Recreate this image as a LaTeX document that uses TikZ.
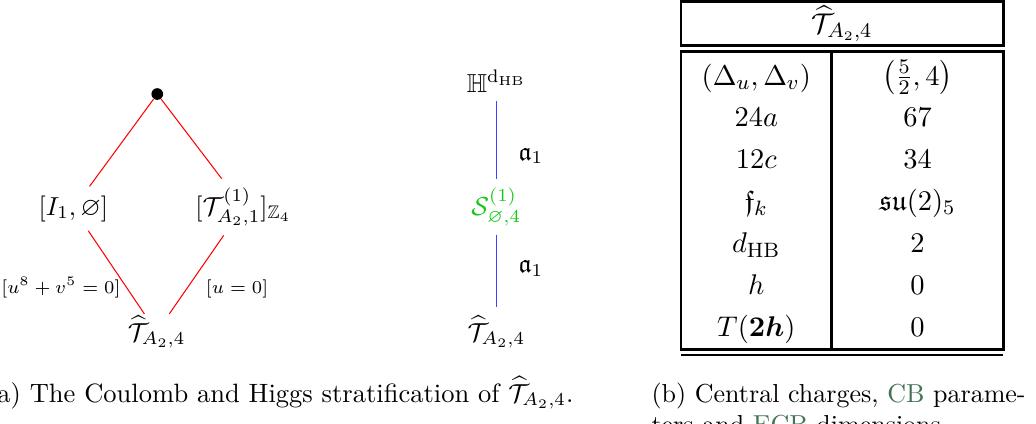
\documentclass[tikz,border=0pt]{standalone}
\usepackage{xcolor}
\usepackage{amsmath,amssymb}
\usepackage{tikz}
\usetikzlibrary{positioning, calc}

\definecolor{cbgreen}{RGB}{66,116,86}
\definecolor{strgreen}{RGB}{20,200,20}

\begin{document}
\begin{tikzpicture}[
  font=\normalsize,
  stratum/.style={anchor=base, inner sep=3.33pt},
  cbline/.style={draw=red, line width=0.4pt},
  hbline/.style={draw=blue!75, line width=0.5pt},
  elabel/.style={font=\scriptsize, anchor=base},
  tcell/.style={font=\fontsize{11}{13.6}\selectfont, anchor=base},
  tbox/.style={draw=black, line width=1pt},
  caption/.style={inner sep=0pt},
]
  \useasboundingbox (0,0) rectangle (14.004,5.718);

  % Coulomb branch stratification
  \node[circle, fill=black, inner sep=0pt, minimum size=4.5pt] (top) at (2.126,4.447) {};
  \node[stratum] (I1) at (0.991,2.811) {$[I_1,\varnothing]$};
  \node[stratum] (TZ) at (3.289,2.811) {$[\mathcal{T}^{(1)}_{A_2,1}]_{\mathbb{Z}_4}$};
  \node[stratum, inner ysep=0.5pt] (Tc) at (2.118,1.108) {$\widehat{\mathcal{T}}_{A_2,4}$};
  \draw[cbline] (top) -- (I1);
  \draw[cbline] (top) -- (TZ);
  \draw[cbline] (I1) -- (Tc);
  \draw[cbline] (TZ) -- (Tc);
  \node[elabel] (l1) at (0.824,1.757) {$[u^8+v^5=0]$};
  \node[elabel] (l2) at (3.204,1.757) {$[u=0]$};

  % Higgs branch stratification
  \node[stratum] (H) at (6.71,4.474) {$\mathbb{H}^{\mathrm{d}_{\mathrm{HB}}}$};
  \node[stratum, text=strgreen] (S) at (6.71,2.811) {$\mathcal{S}^{(1)}_{\varnothing,4}$};
  \node[stratum] (Th) at (6.71,1.108) {$\widehat{\mathcal{T}}_{A_2,4}$};
  \draw[hbline] (H) -- (S);
  \draw[hbline] (S) -- (Th);
  \node[anchor=base] (a1) at (7.177,3.555) {$\mathfrak{a}_1$};
  \node[anchor=base] (a2) at (7.177,2.028) {$\mathfrak{a}_1$};

  % Table of data
  \draw[tbox] (9.205,5.100) rectangle (13.562,5.695);
  \node[tcell] (title) at (11.384,5.268) {$\widehat{\mathcal{T}}_{A_2,4}$};
  \draw[tbox] (9.205,0.996) rectangle (13.562,5.019);
  \draw[tbox] (11.242,0.996) -- (11.242,5.019);
  \draw[tbox] (9.205,0.919) -- (13.562,0.919);
  \foreach \i/\q/\v in {0/{$(\Delta_u,\Delta_v)$}/{$\left(\frac{5}{2},4\right)$},
                        1/{$24a$}/{$67$},
                        2/{$12c$}/{$34$},
                        3/{$\mathfrak{f}_k$}/{$\mathfrak{su}(2)_5$},
                        4/{$d_{\mathrm{HB}}$}/{$2$},
                        5/{$h$}/{$0$},
                        6/{$T(\boldsymbol{2h})$}/{$0$}}{
    \node[tcell] (q\i) at (10.223,4.569-0.5664*\i) {\q};
    \node[tcell] (v\i) at (12.402,4.569-0.5664*\i) {\v};
  }

  % Captions
  \node[caption, anchor=base east, font=\fontsize{10.2}{12.2}\selectfont] (capa) at (7.759,0.284)
    {(a) The Coulomb and Higgs stratification of $\widehat{\mathcal{T}}_{A_2,4}$.};
  \node[caption, anchor=base west] (capb) at (8.80,0.284)
    {(b) Central charges, \textcolor{cbgreen}{CB} parame-};
  \node[caption, anchor=base west] (capb2) at ([yshift=-12pt]capb.base west)
    {ters and \textcolor{cbgreen}{ECB} dimensions.};
\end{tikzpicture}
\end{document}
